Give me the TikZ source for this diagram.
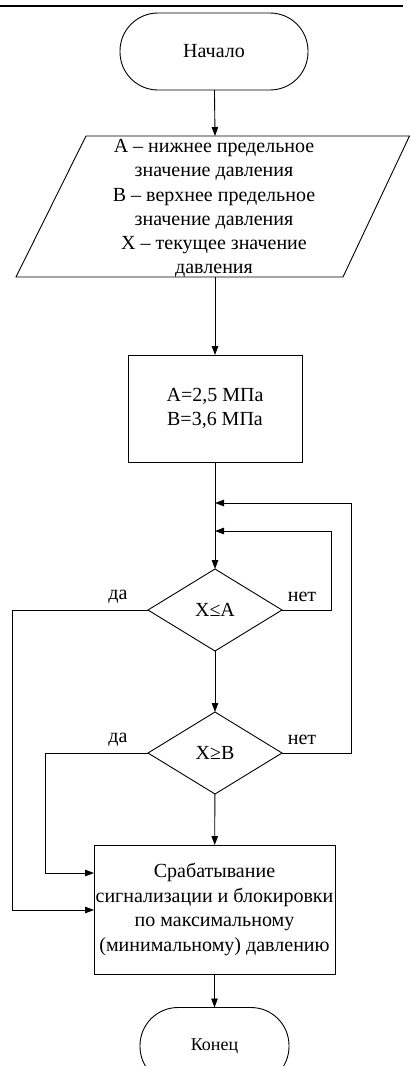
\documentclass[tikz,border=0pt]{standalone}
\usepackage{fontspec}
\setmainfont{Liberation Serif}
\usetikzlibrary{shapes.geometric,arrows.meta}
\begin{document}
\begin{tikzpicture}[x=1pt,y=-1pt,
  line width=0.9pt,
  arr/.style={-{Triangle[length=9pt,width=6.5pt]}},
  term/.style={draw,rectangle,rounded corners=38pt,inner sep=0pt,outer sep=0pt,minimum height=77pt},
  proc/.style={draw,rectangle,inner sep=0pt,outer sep=0pt,align=center},
  dec/.style={draw,diamond,inner sep=0pt,outer sep=0pt,minimum width=134pt,minimum height=82pt},
  txt/.style={align=center,inner sep=0pt,font=\fontsize{20pt}{24.2pt}\selectfont},
  lbl/.style={inner sep=0pt,font=\fontsize{20pt}{24pt}\selectfont},
  font=\fontsize{20pt}{24.5pt}\selectfont]
\useasboundingbox (0,0) rectangle (410,1066);
\clip (0,0) rectangle (410,1066);
\draw[line width=1.6pt] (0,6) -- (403,6);
% start
\node[term,minimum width=188pt] (start) at (214,51.5) {Начало};
% input parallelogram
\draw (86,136) -- (409.5,136) -- (343,277) -- (16,277) -- cycle;
\node[txt] (par) at (214,208.5) {А – нижнее предельное\\значение давления\\В – верхнее предельное\\значение давления\\X – текущее значение\\давления};
\coordinate (ptop) at (215,136);
\coordinate (pbot) at (215,277);
% init
\node[proc,minimum width=174pt,minimum height=107pt] (init) at (215,408.5) {А=2,5 МПа\\В=3,6 МПа};
% decisions
\node[dec] (d1) at (215,610) {X≤A};
\node[dec] (d2) at (215,753) {X≥B};
% action
\node[proc,minimum width=241pt,minimum height=129pt] (act) at (214.5,909.5) {Срабатывание\\сигнализации и блокировки\\по максимальному\\(минимальному) давлению};
% end
\node[term,minimum width=149pt,font=\fontsize{18pt}{22pt}\selectfont] (end) at (214.5,1046) {Конец};
% coordinates for loops
\coordinate (j2) at (215,503);
\coordinate (j1) at (215,531);
\coordinate (r1a) at (331,610);
\coordinate (r1b) at (331,531);
\coordinate (r2a) at (351,753);
\coordinate (r2b) at (351,503);
\coordinate (l1a) at (12,610);
\coordinate (l1b) at (12,910);
\coordinate (in1) at (94,910);
\coordinate (l2a) at (45,753);
\coordinate (l2b) at (45,873);
\coordinate (in2) at (94,873);
% main flow
\draw[arr] (start) -- (ptop);
\draw[arr] (pbot) -- (init);
\draw (init) -- (j2);
\draw[arr] (j2) -- (d1);
\draw[arr] (d1) -- (d2);
\draw[arr] (d2) -- (act);
\draw[arr] (act) -- (end);
% loops
\draw[arr] (d1.east) -- (r1a) -- (r1b) -- (j1);
\draw[arr] (d2.east) -- (r2a) -- (r2b) -- (j2);
% yes branches
\draw[arr] (d1.west) -- (l1a) -- (l1b) -- (in1);
\draw[arr] (d2.west) -- (l2a) -- (l2b) -- (in2);
% labels
\node[lbl] (y1) at (118,597) {да};
\node[lbl] (n1) at (302,597) {нет};
\node[lbl] (y2) at (118,740) {да};
\node[lbl] (n2) at (302,740) {нет};
\end{tikzpicture}
\end{document}
